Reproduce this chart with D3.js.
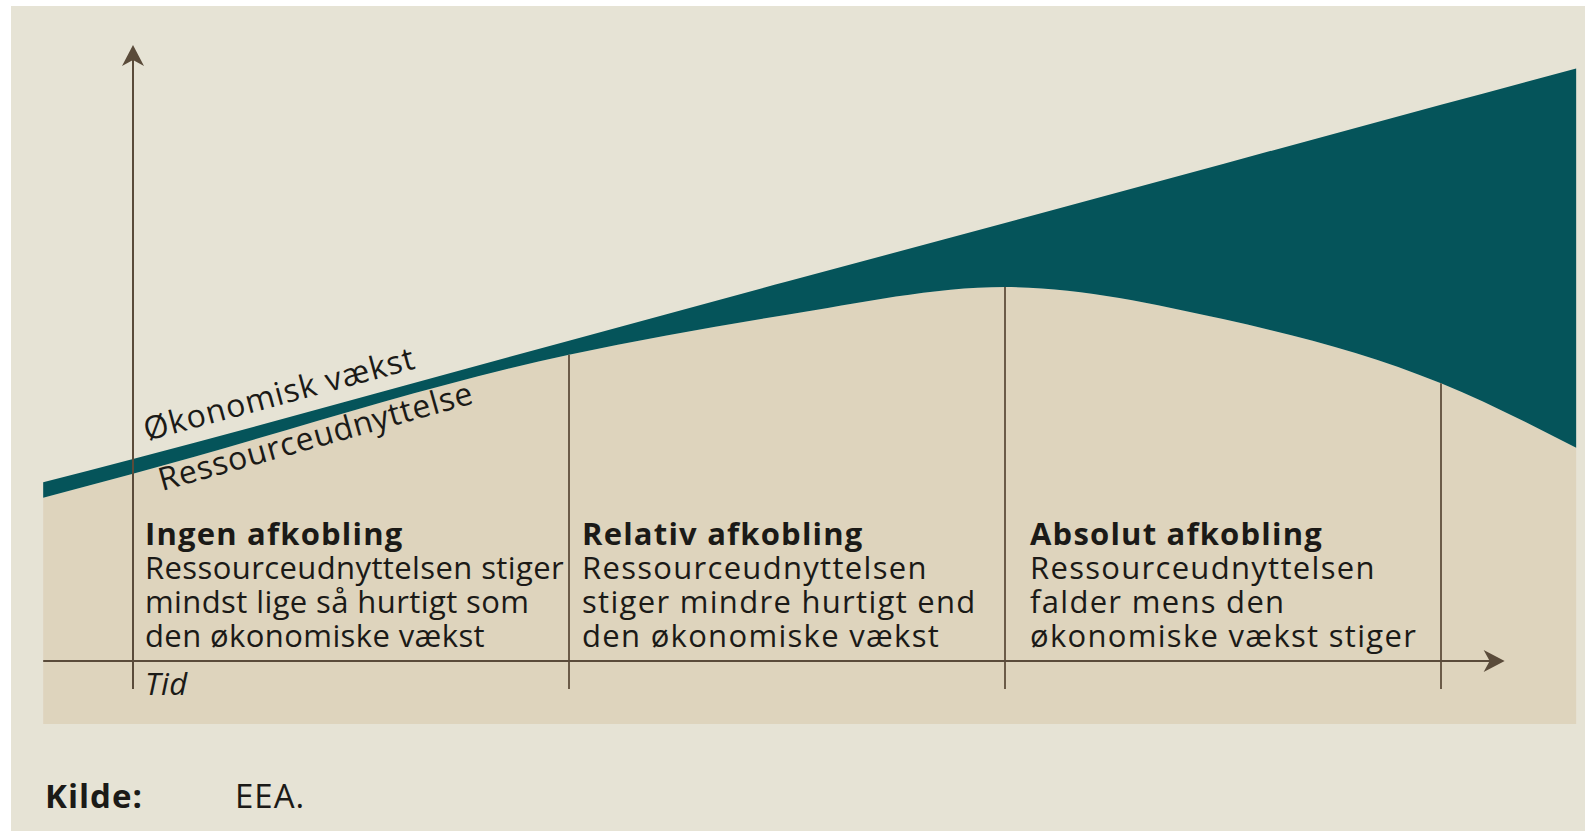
<!DOCTYPE html>
<html>
<head>
<meta charset="utf-8">
<script src="https://cdn.jsdelivr.net/npm/d3@7"></script>
<style>
  html, body { margin: 0; padding: 0; background: #ffffff; }
  svg { display: block; }
  text { font-family: "Open Sans", sans-serif; fill: #1b1a17; }
</style>
</head>
<body>
<script>
'use strict';

// time runs in phases: 0 = y axis, 1..3 = phase borders
var phaseTimes = [-0.206, 0, 1, 1.5, 2, 2.5, 3, 3.31];
var growthValues = [29.0, 32.8, 52.0, 61.6, 71.1, 80.7, 90.3, 96.2];
var resourceValues = [26.5, 30.4, 49.7, 56.2, 60.7, 55.5, 45.1, 34.6];

var phaseBounds = [1, 2, 3];
var phaseStarts = [0, 1, 2];
var phaseTitles = ["Ingen afkobling", "Relativ afkobling", "Absolut afkobling"];
var phaseTexts = [
    ["Ressourceudnyttelsen stiger", "mindst lige så hurtigt som", "den økonomiske vækst"],
    ["Ressourceudnyttelsen", "stiger mindre hurtigt end", "den økonomiske vækst"],
    ["Ressourceudnyttelsen", "falder mens den", "økonomiske vækst stiger"]
];

var growthLabel = "Økonomisk vækst";
var resourceLabel = "Ressourceudnyttelse";
var axisLabel = "Tid";
var sourceKey = "Kilde:";
var sourceText = "EEA.";

var chart = {};
chart.width = 1585;
chart.height = 832;
chart.bottom = 724;
chart.axisY = 661;
chart.textPad = [12, 13, 25];
chart.textSpacing = [0.4, 1.3, 1.3];

chart.points = phaseTimes.map(function(t, i){
    return { t: t, growth: growthValues[i], resource: resourceValues[i] };
});

chart.xScale = d3.scaleLinear().domain([0, 3]).range([133, 1441]);
chart.yScale = d3.scaleLinear().domain([0, 100]).range([chart.axisY, 45]);

chart.resourceAt = function(t){
    // find y of the drawn resource curve at time t
    var path = chart.resourcePath.node();
    var len = path.getTotalLength();
    var x = chart.xScale(t);
    var lo = 0, hi = len;
    for (var k = 0; k < 40; k++) {
        var mid = (lo + hi) / 2;
        if (path.getPointAtLength(mid).x < x) lo = mid; else hi = mid;
    }
    return path.getPointAtLength(lo).y;
};

chart.appendSvg = function(){
    var svg = d3.select("body").append("svg")
        .attr("width", chart.width)
        .attr("height", chart.height);

    svg.append("rect")
        .attr("x", 11).attr("y", 6)
        .attr("width", chart.width - 11).attr("height", 825)
        .attr("fill", "#e6e3d5");
    return svg;
};

chart.appendAreas = function(svg){
    var x = chart.xScale, y = chart.yScale;

    var tanArea = d3.area()
        .curve(d3.curveMonotoneX)
        .x(function(d){ return x(d.t); })
        .y0(chart.bottom)
        .y1(function(d){ return y(d.resource); });

    var gapArea = d3.area()
        .curve(d3.curveMonotoneX)
        .x(function(d){ return x(d.t); })
        .y0(function(d){ return y(d.resource); })
        .y1(function(d){ return y(d.growth); });

    svg.append("path")
        .datum(chart.points)
        .attr("d", tanArea)
        .attr("fill", "#ded4bd");

    svg.append("path")
        .datum(chart.points)
        .attr("d", gapArea)
        .attr("fill", "#05545a");

    chart.resourcePath = svg.append("path")
        .datum(chart.points)
        .attr("d", d3.line().curve(d3.curveMonotoneX)
            .x(function(d){ return x(d.t); })
            .y(function(d){ return y(d.resource); }))
        .attr("fill", "none")
        .attr("stroke", "none");
};

chart.appendAxes = function(svg){
    var x = chart.xScale, y = chart.yScale;
    var axisColor = "#5a4b3a";
    var left = x(phaseTimes[0]);
    var xTip = x(3.146);
    var yTip = y(100);

    svg.selectAll(".divider")
        .data(phaseBounds)
        .enter()
            .append("line")
            .classed("divider", true)
            .attr("x1", function(d){ return x(d); })
            .attr("x2", function(d){ return x(d); })
            .attr("y1", function(d){ return chart.resourceAt(d); })
            .attr("y2", 689)
            .attr("stroke", "#6b5b48")
            .attr("stroke-width", 2);

    svg.append("line")
        .attr("x1", left).attr("x2", xTip - 12)
        .attr("y1", chart.axisY).attr("y2", chart.axisY)
        .attr("stroke", axisColor).attr("stroke-width", 2);

    svg.append("line")
        .attr("x1", x(0)).attr("x2", x(0))
        .attr("y1", 689).attr("y2", yTip + 12)
        .attr("stroke", axisColor).attr("stroke-width", 2);

    svg.append("path")
        .attr("d", "M" + xTip + "," + chart.axisY +
            "L" + (xTip - 21) + "," + (chart.axisY - 11) +
            "L" + (xTip - 15) + "," + chart.axisY +
            "L" + (xTip - 21) + "," + (chart.axisY + 11) + "Z")
        .attr("fill", axisColor);

    svg.append("path")
        .attr("d", "M" + x(0) + "," + yTip +
            "L" + (x(0) - 11) + "," + (yTip + 21) +
            "L" + x(0) + "," + (yTip + 15) +
            "L" + (x(0) + 11) + "," + (yTip + 21) + "Z")
        .attr("fill", axisColor);

    svg.append("text")
        .attr("x", x(0) + 12)
        .attr("y", 695)
        .style("font-size", "31px")
        .style("font-style", "italic")
        .style("letter-spacing", "0.5px")
        .text(axisLabel);
};

chart.appendLineLabels = function(svg){
    var x = chart.xScale, y = chart.yScale;
    var p0 = chart.points[0], p1 = chart.points[chart.points.length - 1];
    var angle = Math.atan2(y(p1.growth) - y(p0.growth), x(p1.t) - x(p0.t)) * 180 / Math.PI;

    svg.append("text")
        .attr("transform", "translate(147,441) rotate(" + angle + ")")
        .style("font-size", "32px")
        .style("letter-spacing", "1px")
        .text(growthLabel);

    svg.append("text")
        .attr("transform", "translate(162,491) rotate(" + (angle - 0.6) + ")")
        .style("font-size", "32px")
        .style("letter-spacing", "0.8px")
        .text(resourceLabel);
};

chart.appendPhaseTexts = function(svg){
    var x = chart.xScale;
    var lineGap = 34;

    var groups = svg.selectAll(".phase")
        .data(phaseStarts)
        .enter()
            .append("text")
            .classed("phase", true)
            .attr("x", function(d, i){ return x(d) + chart.textPad[i]; })
            .attr("y", 545)
            .style("font-size", "31px");

    groups.append("tspan")
        .style("font-weight", "bold")
        .style("letter-spacing", "1.2px")
        .text(function(d, i){ return phaseTitles[i]; });

    groups.each(function(d, i){
        var node = d3.select(this);
        phaseTexts[i].forEach(function(line, j){
            node.append("tspan")
                .attr("x", x(d) + chart.textPad[i])
                .attr("y", 545 + lineGap * (j + 1))
                .style("letter-spacing", chart.textSpacing[i] + "px")
                .text(line);
        });
    });
};

chart.appendSource = function(svg){
    svg.append("text")
        .attr("x", 45).attr("y", 808)
        .style("font-size", "33px")
        .style("font-weight", "bold")
        .style("letter-spacing", "1px")
        .text(sourceKey);

    svg.append("text")
        .attr("x", 235).attr("y", 808)
        .style("font-size", "33px")
        .style("letter-spacing", "1px")
        .text(sourceText);
};

chart.run = function(){
    var svg = chart.appendSvg();
    chart.appendAreas(svg);
    chart.appendAxes(svg);
    chart.appendLineLabels(svg);
    chart.appendPhaseTexts(svg);
    chart.appendSource(svg);
};

window.onload = chart.run;
</script>
</body>
</html>
